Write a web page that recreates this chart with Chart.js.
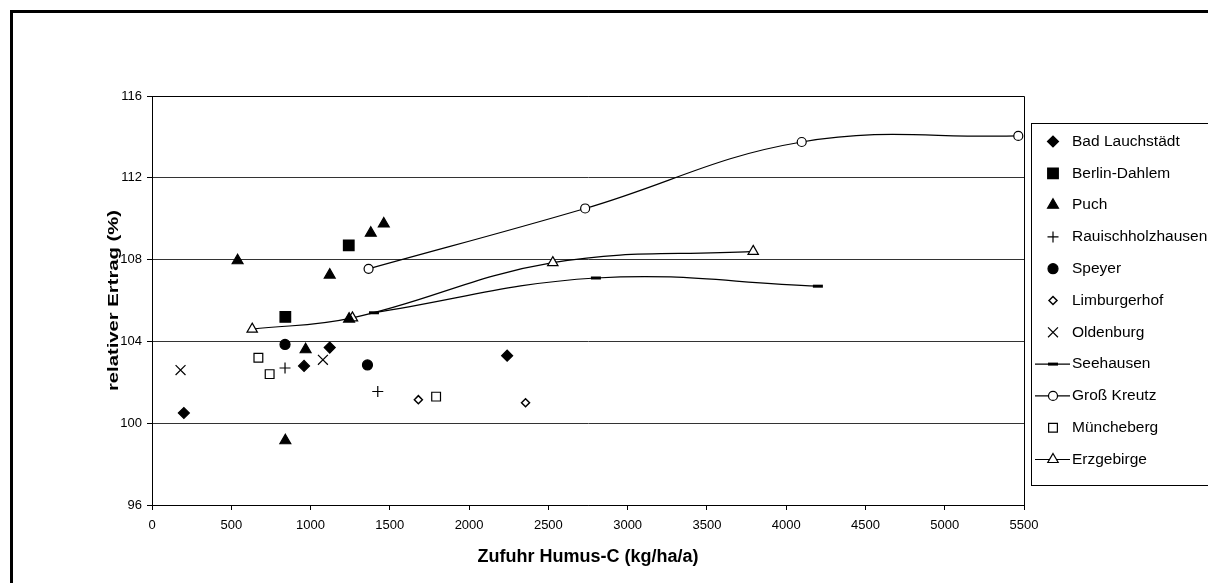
<!DOCTYPE html>
<html>
<head>
<meta charset="utf-8">
<script src="https://cdn.jsdelivr.net/npm/chart.js@4.4.1/dist/chart.umd.min.js"></script>
<style>
  html, body { margin: 0; padding: 0; background: #fff; }
  #wrap { width: 1208px; height: 583px; }
</style>
</head>
<body>
<div id="wrap"><canvas id="chart" width="1208" height="583"></canvas></div>
<script>
// Werte
const xTicks = [0, 500, 1000, 1500, 2000, 2500, 3000, 3500, 4000, 4500, 5000, 5500];
const yTicks = [96, 100, 104, 108, 112, 116];

const badLauchstaedtX = [201, 959, 1121, 2240];
const badLauchstaedtY = [100.5, 102.8, 103.7, 103.3];
const berlinDahlemX = [841, 1241];
const berlinDahlemY = [105.2, 108.7];
const puchX = [540, 841, 969, 1121, 1243, 1380, 1462];
const puchY = [107.95, 99.15, 103.6, 107.25, 105.1, 109.3, 109.75];
const rauischX = [839, 1424];
const rauischY = [102.7, 101.55];
const speyerX = [839, 1359];
const speyerY = [103.85, 102.85];
const limburgerhofX = [1680, 2356];
const limburgerhofY = [101.15, 101.0];
const oldenburgX = [180, 1078];
const oldenburgY = [102.6, 103.1];
const seehausenX = [1400, 2800, 4200];
const seehausenY = [105.4, 107.1, 106.7];
const grossKreutzX = [1366, 2732, 4098, 5464];
const grossKreutzY = [107.55, 110.5, 113.75, 114.05];
const muenchebergX = [671, 742, 1792];
const muenchebergY = [103.2, 102.4, 101.3];
const erzgebirgeX = [632, 1264, 2528, 3792];
const erzgebirgeY = [104.6, 105.15, 107.85, 108.4];

const pts = (xs, ys) => xs.map((x, i) => ({ x: x, y: ys[i] }));

function series(label, xs, ys, style, radius, filled, line, bw) {
    return {
        label: label,
        data: pts(xs, ys),
        pointStyle: style,
        pointRadius: radius,
        pointHoverRadius: radius,
        pointBorderColor: '#000',
        pointBackgroundColor: filled ? '#000' : '#fff',
        pointBorderWidth: bw || 1.2,
        borderColor: '#000',
        borderWidth: 1.2,
        showLine: line,
        tension: 0.4,
        fill: false
    };
}

const datasets = [
    series('Bad Lauchstädt', badLauchstaedtX, badLauchstaedtY, 'rectRot', 5.5, true, false),
    series('Berlin-Dahlem', berlinDahlemX, berlinDahlemY, 'rect', 7.5, true, false),
    series('Puch', puchX, puchY, 'triangle', 6.3, true, false),
    series('Rauischholzhausen', rauischX, rauischY, 'cross', 5.5, false, false),
    series('Speyer', speyerX, speyerY, 'circle', 5, true, false),
    series('Limburgerhof', limburgerhofX, limburgerhofY, 'rectRot', 4, false, false, 1.5),
    series('Oldenburg', oldenburgX, oldenburgY, 'crossRot', 7, false, false),
    series('Seehausen', seehausenX, seehausenY, 'line', 5, true, true, 3),
    series('Groß Kreutz', grossKreutzX, grossKreutzY, 'circle', 4.5, false, true),
    series('Müncheberg', muenchebergX, muenchebergY, 'rect', 6.2, false, false),
    series('Erzgebirge', erzgebirgeX, erzgebirgeY, 'triangle', 6, false, true)
];

const frame = {
    id: 'frame',
    beforeDraw(chart) {
        const ctx = chart.ctx;
        ctx.save();
        ctx.fillStyle = '#fff';
        ctx.fillRect(0, 0, chart.width, chart.height);
        ctx.restore();
    },
    afterDraw(chart) {
        const ctx = chart.ctx;
        const a = chart.chartArea;
        ctx.save();
        // Rahmen des Diagrammbereichs oben/rechts
        ctx.strokeStyle = '#000';
        ctx.lineWidth = 1;
        ctx.beginPath();
        ctx.moveTo(a.left, Math.round(a.top) + 0.5);
        ctx.lineTo(Math.round(a.right) + 0.5, Math.round(a.top) + 0.5);
        ctx.lineTo(Math.round(a.right) + 0.5, a.bottom);
        ctx.stroke();

        // äußerer Rahmen
        ctx.lineWidth = 3;
        ctx.strokeRect(11.5, 11.5, 1220, 600);

        // Achsentitel
        ctx.fillStyle = '#000';
        ctx.font = 'bold 18px "Liberation Sans", Arial, sans-serif';
        ctx.textAlign = 'center';
        ctx.textBaseline = 'middle';
        ctx.fillText('Zufuhr Humus-C (kg/ha/a)', (a.left + a.right) / 2, 557);
        // y-Titel im Original gestreckt
        ctx.font = 'bold 15px "Liberation Sans", Arial, sans-serif';
        ctx.translate(114, (a.top + a.bottom) / 2);
        ctx.rotate(-Math.PI / 2);
        ctx.scale(1.35, 1);
        ctx.fillText('relativer Ertrag (%)', 0, 0);
        ctx.restore();

        // Legende
        ctx.save();
        ctx.strokeStyle = '#000';
        ctx.lineWidth = 1;
        ctx.fillStyle = '#fff';
        ctx.fillRect(1031.5, 123.5, 200, 362);
        ctx.strokeRect(1031.5, 123.5, 200, 362);
        ctx.font = '15.5px "Liberation Sans", Arial, sans-serif';
        ctx.textAlign = 'left';
        ctx.textBaseline = 'middle';
        chart.data.datasets.forEach((ds, i) => {
            const y = 141.5 + i * 31.8;
            if (ds.showLine) {
                ctx.strokeStyle = '#000';
                ctx.lineWidth = 1.2;
                ctx.beginPath();
                ctx.moveTo(1035, y);
                ctx.lineTo(1070, y);
                ctx.stroke();
            }
            ctx.fillStyle = ds.pointBackgroundColor;
            ctx.strokeStyle = '#000';
            ctx.lineWidth = ds.pointBorderWidth;
            Chart.helpers.drawPoint(ctx, {
                pointStyle: ds.pointStyle,
                radius: ds.pointRadius,
                rotation: 0,
                borderWidth: ds.pointBorderWidth
            }, 1053, y);
            ctx.fillStyle = '#000';
            ctx.fillText(ds.label, 1072, y);
        });
        ctx.restore();
    }
};

Chart.defaults.font.family = '"Liberation Sans", Arial, sans-serif';
Chart.defaults.color = '#000';

new Chart(document.getElementById('chart'), {
    type: 'scatter',
    data: { datasets: datasets },
    options: {
        responsive: false,
        animation: false,
        devicePixelRatio: 1,
        layout: { padding: { top: 96, right: 184, left: 0, bottom: 0 } },
        plugins: { legend: { display: false }, tooltip: { enabled: false } },
        scales: {
            x: {
                type: 'linear',
                min: 0,
                max: 5500,
                afterBuildTicks: (s) => { s.ticks = xTicks.map(v => ({ value: v })); },
                afterFit: (s) => { s.height = 78; },
                ticks: { font: { size: 13 }, padding: 8, maxRotation: 0, callback: (v) => String(v) },
                grid: { drawOnChartArea: false, tickLength: 5, tickColor: '#000', color: '#000' },
                border: { color: '#000', width: 1 }
            },
            y: {
                type: 'linear',
                min: 96,
                max: 116,
                afterBuildTicks: (s) => { s.ticks = yTicks.map(v => ({ value: v })); },
                afterFit: (s) => { s.width = 152; },
                ticks: { font: { size: 13 }, padding: 5, callback: (v) => String(v) },
                grid: { color: '#333', lineWidth: 1, tickLength: 5, tickColor: '#000' },
                border: { color: '#000', width: 1 }
            }
        }
    },
    plugins: [frame]
});
</script>
</body>
</html>
